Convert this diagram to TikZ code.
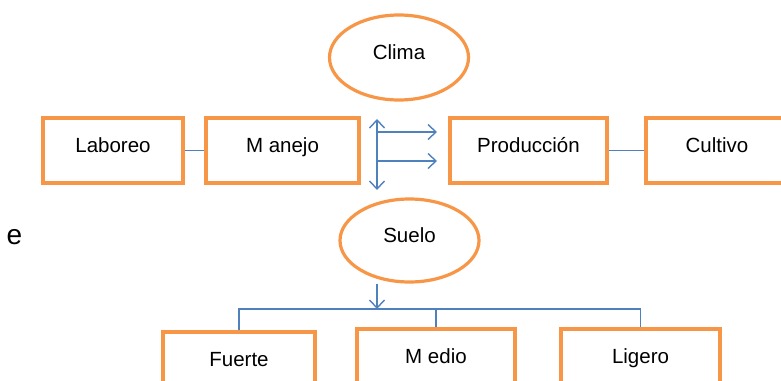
\documentclass[tikz,border=0pt]{standalone}
\usepackage{fontspec}
\setmainfont{Liberation Sans}
\usetikzlibrary{shapes.geometric,arrows.meta}
\definecolor{boxorange}{HTML}{F79646}
\definecolor{lineblue}{HTML}{4F81BD}
\begin{document}
\begin{tikzpicture}[x=1pt,y=-1pt]
    \tikzset{%
      box/.style={rectangle, draw=boxorange, line width=3.5pt, inner sep=0pt,
        minimum height=65pt, text height=14.5pt, text depth=11.5pt,
        font=\fontsize{20.5}{24}\selectfont},
      oval/.style={ellipse, draw=boxorange, line width=3.2pt, inner sep=0pt,
        text height=14.5pt, text depth=11.5pt,
        font=\fontsize{20.5}{24}\selectfont},
      link/.style={lineblue, line width=1.4pt},
      arr/.style={link, -{Straight Barb[length=8pt,width=15pt]}},
      darr/.style={link, {Straight Barb[length=8pt,width=15pt]}-{Straight Barb[length=8pt,width=15pt]}},
    }
    \clip (0,0) rectangle (781,380);
    % ovals
    \node[oval, minimum width=139pt, minimum height=85pt] (Clima) at (399,57.5) {Clima};
    \node[oval, minimum width=139pt, minimum height=83pt] (Suelo) at (409.5,240.5) {Suelo};
    % top row
    \node[box, minimum width=140pt] (Laboreo) at (113,150.5) {Laboreo};
    \node[box, minimum width=153pt] (Manejo) at (282.5,150.5) {M anejo};
    \node[box, minimum width=157pt] (Produccion) at (528.5,150.5) {Producción};
    \node[box, minimum width=142pt] (Cultivo) at (717,150.5) {Cultivo};
    \draw [link] (Laboreo) -- (Manejo);
    \draw [link] (Produccion) -- (Cultivo);
    % arrows in the middle
    \coordinate (vtop) at (377,119);
    \coordinate (vbot) at (377,190);
    \coordinate (h1a) at (377,132);
    \coordinate (h1b) at (437,132);
    \coordinate (h2a) at (377,161);
    \coordinate (h2b) at (437,161);
    \draw [darr] (vtop) -- (vbot);
    \draw [arr] (h1a) -- (h1b);
    \draw [arr] (h2a) -- (h2b);
    % bottom row
    \node[box, minimum width=152pt] (Fuerte) at (239,364.5) {Fuerte};
    \node[box, minimum width=158pt] (Medio) at (436,361.5) {M edio};
    \node[box, minimum width=159pt] (Ligero) at (640.5,361.5) {Ligero};
    \coordinate (bus) at (377,309);
    \draw [arr] (Suelo.south -| bus) -- (bus);
    \draw [link] (Fuerte.north) |- (bus) -| (Ligero.north);
    \draw [link] (Medio.north) -- (Medio.north |- bus);
    % stray letter
    \node[font=\fontsize{28}{32}\selectfont, inner sep=0pt] (e) at (14.5,237) {e};
\end{tikzpicture}
\end{document}
